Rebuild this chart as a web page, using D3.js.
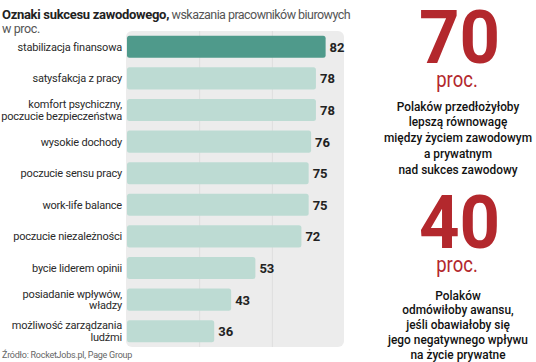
<!DOCTYPE html>
<html><head><meta charset="utf-8">
<script src="https://cdn.jsdelivr.net/npm/d3@7"></script>
<style>body{margin:0;background:#fff}svg{display:block}</style>
</head><body>
<svg id="c" width="536" height="362"></svg>
<script>
const categories = [
  ["stabilizacja finansowa"],
  ["satysfakcja z pracy"],
  ["komfort psychiczny,", "poczucie bezpieczeństwa"],
  ["wysokie dochody"],
  ["poczucie sensu pracy"],
  ["work-life balance"],
  ["poczucie niezależności"],
  ["bycie liderem opinii"],
  ["posiadanie wpływów,", "władzy"],
  ["możliwość zarządzania", "ludźmi"]
];
const values = [82, 78, 78, 76, 75, 75, 72, 53, 43, 36];
const gridTicks = [30, 60];
const titleBold = "Oznaki sukcesu zawodowego,";
const titleRest = " wskazania pracowników biurowych";
const subtitle = "w proc.";
const source = "Źródło: RocketJobs.pl, Page Group";
const facts = [
  {num: "70", unit: "proc.", lines: ["Polaków przedłożyłoby", "lepszą równowagę", "między życiem zawodowym", "a prywatnym", "nad sukces zawodowy"]},
  {num: "40", unit: "proc.", lines: ["Polaków", "odmówiłoby awansu,", "jeśli obawiałoby się", "jego negatywnego wpływu", "na życie prywatne"]}
];

const svg = d3.select("#c");
const font = "Roboto, 'Open Sans', sans-serif";
const x = d3.scaleLinear().domain([0, 90]).range([127, 345]);
const idx = d3.range(values.length);
const y = d3.scaleBand().domain(idx).range([31, 347]).paddingInner(0.3).paddingOuter(0.15);

// panel
svg.append("rect").attr("x", 126).attr("y", 31).attr("width", 218).attr("height", 316)
  .attr("rx", 6).attr("fill", "#ececec");
svg.append("g").selectAll("line").data(gridTicks).join("line")
  .attr("x1", d => x(d)).attr("x2", d => x(d)).attr("y1", 31).attr("y2", 347)
  .attr("stroke", "#dedede").attr("stroke-width", 1);

// bars
svg.append("g").selectAll("rect").data(values).join("rect")
  .attr("x", x(0)).attr("y", (d, i) => y(i))
  .attr("width", d => x(d) - x(0)).attr("height", y.bandwidth())
  .attr("rx", 2.5)
  .attr("fill", (d, i) => i === 0 ? "#4f9a8b" : "#bddbd3");

// values
svg.append("g").selectAll("text").data(values).join("text")
  .attr("x", d => x(d) + 4).attr("y", (d, i) => y(i) + y.bandwidth() / 2 + 5)
  .attr("font-family", font).attr("font-weight", 700).attr("font-size", 13)
  .attr("fill", "#222").text(d => d);

// labels
const lab = svg.append("g").selectAll("text").data(categories).join("text")
  .attr("text-anchor", "end").attr("font-family", font).attr("font-size", 11)
  .attr("fill", "#2a2a2a").attr("letter-spacing", -0.2);
lab.each(function(d, i) {
  const t = d3.select(this);
  const cy = y(i) + y.bandwidth() / 2;
  const lh = 11.5;
  d.forEach((s, k) => {
    t.append("tspan").attr("x", 122)
      .attr("y", cy + 4 + (k - (d.length - 1) / 2) * lh).text(s);
  });
});

// title
const tt = svg.append("text").attr("x", 2).attr("y", 18.5).attr("font-family", font).attr("fill", "#333");
tt.append("tspan").attr("font-weight", 700).attr("font-size", 13).attr("letter-spacing", -0.3).attr("fill", "#222").text(titleBold);
tt.append("tspan").attr("font-size", 12.5).attr("letter-spacing", -0.55).attr("fill", "#555").text(titleRest);
svg.append("text").attr("x", 2).attr("y", 33).attr("font-family", font).attr("font-size", 12.5)
  .attr("letter-spacing", -0.4).attr("fill", "#555").text(subtitle);

// source
svg.append("text").attr("x", 2).attr("y", 358).attr("font-family", font).attr("font-size", 9)
  .attr("letter-spacing", -0.25).attr("fill", "#666").text(source);

// facts
const fx = 458;
const numBase = [63, 248];
const lineStart = [110.5, 299.5];
const lineStep = [15.8, 14.9];
facts.forEach((f, j) => {
  const g = svg.append("g").attr("font-family", font).attr("text-anchor", "middle");
  g.append("text").attr("transform", `translate(${fx + 1.5},${numBase[j]}) scale(0.95,1)`)
    .attr("font-size", 74.5).attr("font-weight", 700)
    .attr("fill", "#b3282d").text(f.num);
  g.append("text").attr("transform", `translate(${fx - 1},${numBase[j] + 23.5}) scale(0.84,1)`)
    .attr("font-size", 22).attr("fill", "#b3282d").text(f.unit);
  g.selectAll("text.l").data(f.lines).join("text").attr("class", "l")
    .attr("transform", (d, k) => `translate(${fx},${lineStart[j] + k * lineStep[j]}) scale(0.88,1)`)
    .attr("font-size", 13.5).attr("font-weight", 500).attr("fill", "#111").text(d => d);
});
</script>
</body></html>
